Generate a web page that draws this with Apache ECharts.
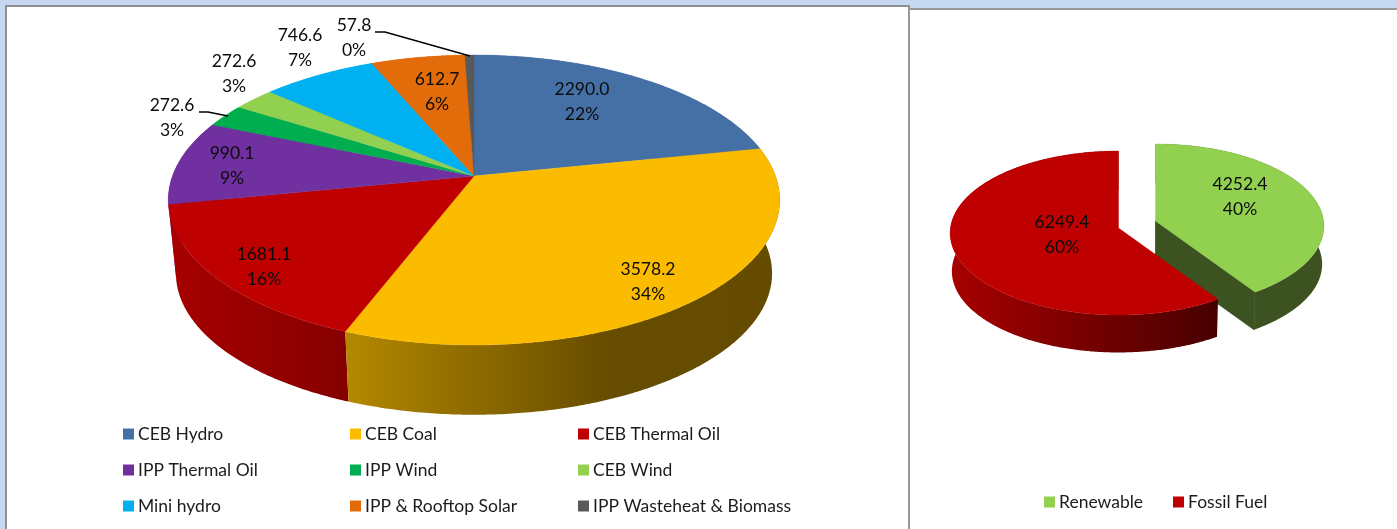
<!DOCTYPE html>
<html><head><meta charset="utf-8">
<style>html,body{margin:0;padding:0;background:#c6d9f1}#c{width:1397px;height:529px}</style>
<script src="https://cdn.jsdelivr.net/npm/echarts@6/dist/echarts.min.js"></script>
</head><body><div id="c"></div>
<script>
// ---- data ----
const categories = ['CEB Hydro','CEB Coal','CEB Thermal Oil','IPP Thermal Oil','IPP Wind','CEB Wind','Mini hydro','IPP & Rooftop Solar','IPP Wasteheat & Biomass'];
const values = [2290.0,3578.2,1681.1,990.1,272.6,272.6,746.6,612.7,57.8];
const percents = [22,34,16,9,3,3,7,6,0];
const mixCategories = ['Renewable','Fossil Fuel'];
const mixValues = [4252.4,6249.4];
const mixPercents = [40,60];
// ---- styles ----
const colors = ['#4570a6','#fbbc00','#be0000','#7030a0','#00ad4f','#92d050','#00b0f0','#e26b0a','#595959'];
const mixColors = ['#92d050','#be0000'];
const FONT = 'Lato, "Open Sans", sans-serif';
const labelFont = '17.5px ' + FONT;
const labelAt = [[582,102],[648,282],[264,267],[232,166],[172,118],[234,74],[300,48],[437,92],[354,38]];
const mixLabelAt = [[1240,197],[1062,235]];
const leaders = [[[199,112],[208,112],[228,116]],[[375,32],[385,32],[470,56]]];
const mainGeom = {cx:474,cy:176,rx:301.5,ry:141,k:0.1655,depth:74,s:0.975,ex:0,ey:0};
const mixGeom = {cx:1137,cy:224.5,rx:168,ry:81.7,k:0.061,depth:38.3,s:0.99,ex:19.35,ey:12};
const wallStops = {
  1:{x0:345,x1:780,stops:[[0,'#b48800'],[0.6,'#674d00'],[1,'#644b00']]},
  2:{x0:168,x1:345,stops:[[0,'#a80000'],[1,'#860000']]}
};
const mixWallStops = {
  0:{x0:1156,x1:1325,stops:[[0,'#3c5321'],[1,'#3c5321']]},
  1:{x0:950,x1:1216,stops:[[0,'#a80000'],[1,'#480000']]}
};

function slices(vals){
  const total = vals.reduce((a,b)=>a+b,0); let acc = 0;
  return vals.map(v=>{const a0=acc/total*2*Math.PI; acc+=v; return [a0,acc/total*2*Math.PI];});
}
function project(g,th,off){
  const u=Math.sin(th), v=-Math.cos(th), d=1-g.k*v;
  return [g.cx+off[0]+g.rx*u/d, g.cy+off[1]+g.ry*v/d];
}
function toFloor(g,p,off){
  const ax=g.cx+off[0], ay=g.cy+off[1];
  return [ax+g.s*(p[0]-ax), p[1]+g.depth-(1-g.s)*(p[1]-ay)];
}
function arc(g,a0,a1,off){
  const n=Math.max(2,Math.ceil((a1-a0)/0.01)), out=[];
  for(let i=0;i<=n;i++) out.push(project(g,a0+(a1-a0)*i/n,off));
  return out;
}
function offset(g,a0,a1){
  const m=(a0+a1)/2; return [g.ex*Math.sin(m), -g.ey*Math.cos(m)];
}
function grad(w,base){
  if(!w) return base;
  return new echarts.graphic.LinearGradient(w.x0,0,w.x1,0,w.stops.map(s=>({offset:s[0],color:s[1]})),true);
}
function pieSeries(names,vals,cols,g,wall,order){
  const sl=slices(vals), out=[];
  order.forEach(i=>{
    const [a0,a1]=sl[i], off=offset(g,a0,a1);
    out.push({type:'custom',name:names[i],coordinateSystem:'none',z:2,silent:true,animation:false,
      itemStyle:{color:cols[i]},data:[[vals[i]]],
      renderItem(){
        const top=arc(g,a0,a1,off), bot=top.map(p=>toFloor(g,p,off)).reverse();
        const kids=[];
        if(g.ex && i===0){ // cut face of the exploded slice
          const apex=[g.cx+off[0],g.cy+off[1]], end=top[top.length-1];
          kids.push({type:'polygon',shape:{points:[apex,end,toFloor(g,end,off),toFloor(g,apex,off)]},style:{fill:wall[i].stops[0][1],stroke:wall[i].stops[0][1],lineWidth:0.8}});
        }
        kids.push({type:'polygon',shape:{points:top.concat(bot)},style:{fill:grad(wall[i],cols[i])}});
        return {type:'group',children:kids};
      }});
  });
  sl.forEach(([a0,a1],i)=>{
    const off=offset(g,a0,a1);
    out.push({type:'custom',name:names[i],coordinateSystem:'none',z:3,silent:true,animation:false,
      itemStyle:{color:cols[i]},data:[[vals[i]]],
      renderItem(){
        const apex=[g.cx+off[0],g.cy+off[1]];
        return {type:'polygon',shape:{points:[apex].concat(arc(g,a0,a1,off))},style:{fill:cols[i],stroke:cols[i],lineWidth:0.4}};
      }});
  });
  return out;
}
function labelSeries(vals,pcts,pos){
  return {type:'custom',name:'labels',coordinateSystem:'none',z:5,silent:true,animation:false,
    data:vals.map((v,i)=>[v,pcts[i]]),
    renderItem(p,api){
      const i=p.dataIndex;
      return {type:'text',style:{text:api.value(0).toFixed(1)+'\n'+api.value(1)+'%',x:pos[i][0],y:pos[i][1],
        align:'center',verticalAlign:'middle',font:labelFont,lineHeight:24.5,fill:'#0c0c0c'}};
    }};
}
const leaderSeries = {type:'custom',name:'leaders',coordinateSystem:'none',z:4,silent:true,animation:false,
  data:leaders.map((l,i)=>[i]),
  renderItem(p){return {type:'polyline',shape:{points:leaders[p.dataIndex]},style:{stroke:'#000',lineWidth:1.4,fill:null}};}};

function legend(names,left,top,gap,size){
  return {data:names,left,top,orient:'vertical',itemWidth:size,itemHeight:size,itemGap:gap,selectedMode:false,icon:'rect',
    padding:0,textStyle:{fontFamily:FONT,fontSize:17.5,color:'#1c1c1c',padding:[0,0,0,-1]},animation:false};
}
const rowGap = 18;
const option = {
  animation:false,
  backgroundColor:'#c6d9f1',
  graphic:[
    {type:'rect',z:-10,shape:{x:5,y:5,width:905,height:524},style:{fill:'#8f8f8f'}},
    {type:'rect',z:-9,shape:{x:7,y:7,width:901,height:522},style:{fill:'#fff'}},
    {type:'rect',z:-10,shape:{x:908,y:8,width:489,height:521},style:{fill:'#999'}},
    {type:'rect',z:-9,shape:{x:910,y:10,width:487,height:519},style:{fill:'#fff'}}
  ],
  legend:[
    legend([categories[0],categories[3],categories[6]],123,425,rowGap,11),
    legend([categories[1],categories[4],categories[7]],350,425,rowGap,11),
    legend([categories[2],categories[5],categories[8]],578,425,rowGap,11),
    legend([mixCategories[0]],1044,493,0,11),
    legend([mixCategories[1]],1173,493,0,11)
  ],
  series:[].concat(
    pieSeries(categories,values,colors,mainGeom,wallStops,[0,3,4,5,6,7,8,2,1]),
    [labelSeries(values,percents,labelAt),leaderSeries],
    pieSeries(mixCategories,mixValues,mixColors,mixGeom,mixWallStops,[0,1]),
    [labelSeries(mixValues,mixPercents,mixLabelAt)]
  )
};
const chart = echarts.init(document.getElementById('c'),null,{renderer:'canvas'});
chart.setOption(option);
</script>
</body></html>
